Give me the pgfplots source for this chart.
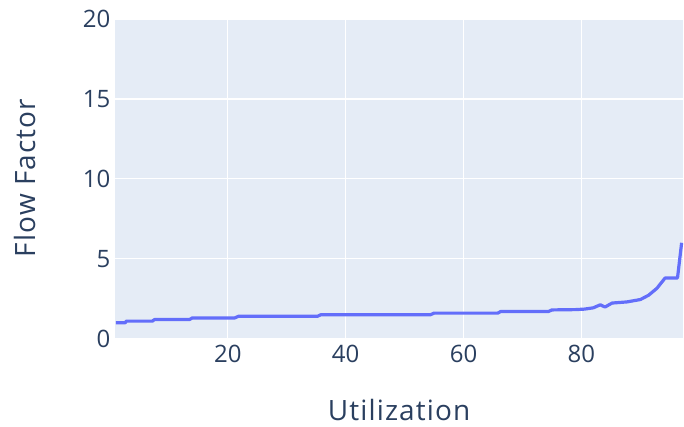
\documentclass[border=0pt]{standalone}
\usepackage{pgfplots}
\pgfplotsset{compat=1.18}
\usepackage{fontspec}
\setmainfont{Open Sans}
\definecolor{plotbg}{HTML}{E5ECF6}
\definecolor{fontcol}{HTML}{2A3F5F}
\definecolor{linecol}{HTML}{636EFA}

\begin{document}
\begin{tikzpicture}
    \begin{axis}[
        at={(0,0)}, anchor=south west,
        scale only axis,
        width=569bp, height=320bp,
        xmin=0.85, xmax=97.3,
        ymin=0, ymax=20,
        xtick={20,40,60,80},
        ytick={0,5,10,15,20},
        grid=major,
        major grid style={white, line width=1.2bp},
        axis line style={draw=none},
        axis background/.style={fill=plotbg},
        major tick length=0pt,
        /pgf/number format/assume math mode=true,
        tick label style={font=\fontsize{24bp}{27bp}\selectfont, text=fontcol},
        xticklabel style={yshift=-3bp},
        yticklabel style={xshift=-1bp},
        label style={font=\addfontfeatures{LetterSpace=4}\fontsize{28bp}{32bp}\selectfont, text=fontcol},
        xlabel={Utilization},
        ylabel={Flow Factor},
        xlabel style={at={(axis description cs:0.5,-0.222)}, anchor=center},
        ylabel style={at={(axis description cs:-0.158,0.503)}, anchor=center, rotate=0},
        clip=false,
    ]
    \addplot[linecol, line width=3.2bp, line join=round] coordinates {
        (1,1.0) (2.6,1.0) (2.8,1.1) (7.2,1.1) (7.6,1.2) (13.5,1.2) (14,1.3)
        (21.2,1.3) (21.8,1.4) (35.2,1.4) (35.8,1.5) (54.4,1.5) (55,1.6)
        (65.8,1.6) (66.3,1.7) (74.4,1.7) (75,1.8) (79,1.82) (80.5,1.85)
        (82,1.93) (83.2,2.12) (84,1.98) (85.2,2.23) (87.7,2.3) (90,2.45)
        (91.4,2.72) (92.8,3.15) (94.2,3.8) (96.3,3.8) (97,6.0)
    };
    \end{axis}
    \path[use as bounding box] (-115bp,-88bp) rectangle (569bp,339bp);
\end{tikzpicture}
\end{document}
